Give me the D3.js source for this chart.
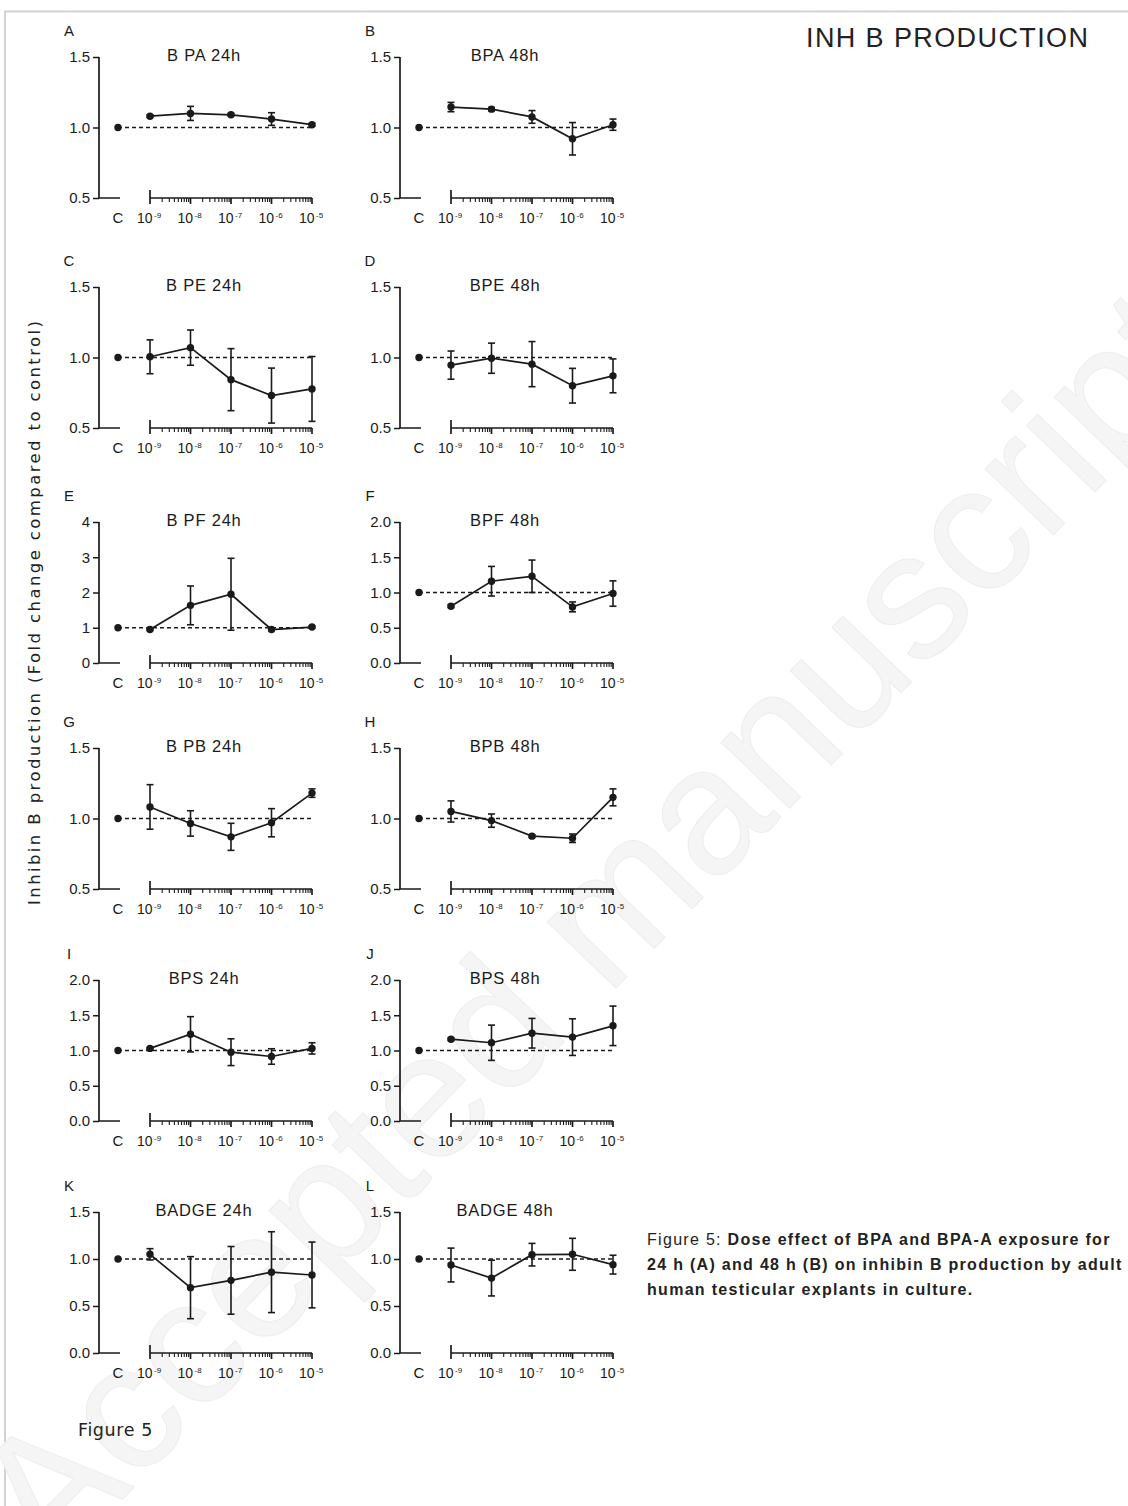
<!DOCTYPE html>
<html>
<head>
<meta charset="utf-8">
<script src="https://cdn.jsdelivr.net/npm/d3@7"></script>
<style>
  body { margin: 0; background: #fff; }
  svg { display: block; }
</style>
</head>
<body>
<div id="chart"></div>
<script>
// doses on the log axis, control is drawn apart at "C"
var doses = [1e-9, 1e-8, 1e-7, 1e-6, 1e-5];
var doseExp = ["-9", "-8", "-7", "-6", "-5"];

// mean fold change, one value per dose (control = 1)
var bpa24 = [1.08, 1.10, 1.09, 1.06, 1.02];
var bpa24Err = [0.01, 0.05, 0.01, 0.045, 0.01];
var bpa48 = [1.145, 1.13, 1.075, 0.92, 1.02];
var bpa48Err = [0.033, 0.012, 0.045, 0.115, 0.04];
var bpe24 = [1.005, 1.07, 0.843, 0.73, 0.777];
var bpe24Err = [0.12, 0.125, 0.22, 0.195, 0.23];
var bpe48 = [0.946, 0.995, 0.953, 0.80, 0.87];
var bpe48Err = [0.10, 0.107, 0.16, 0.123, 0.12];
var bpf24 = [0.95, 1.635, 1.95, 0.95, 1.02];
var bpf24Err = [0.03, 0.55, 1.02, 0.03, 0.03];
var bpf48 = [0.806, 1.16, 1.23, 0.796, 0.985];
var bpf48Err = [0.02, 0.21, 0.23, 0.07, 0.18];
var bpb24 = [1.082, 0.965, 0.87, 0.97, 1.18];
var bpb24Err = [0.158, 0.09, 0.096, 0.10, 0.03];
var bpb48 = [1.05, 0.985, 0.875, 0.86, 1.15];
var bpb48Err = [0.075, 0.047, 0.01, 0.03, 0.06];
var bps24 = [1.03, 1.23, 0.976, 0.915, 1.03];
var bps24Err = [0.01, 0.25, 0.19, 0.11, 0.08];
var bps48 = [1.16, 1.11, 1.245, 1.19, 1.35];
var bps48Err = [0.02, 0.25, 0.21, 0.26, 0.28];
var badge24 = [1.05, 0.695, 0.773, 0.86, 0.83];
var badge24Err = [0.06, 0.33, 0.36, 0.43, 0.35];
var badge48 = [0.936, 0.797, 1.046, 1.05, 0.94];
var badge48Err = [0.18, 0.19, 0.12, 0.17, 0.10];

// y tick sets
var ticks05to15 = [0.5, 1.0, 1.5];
var ticks0to4 = [0, 1, 2, 3, 4];
var ticks0to2 = [0, 0.5, 1.0, 1.5, 2.0];
var ticks0to15 = [0, 0.5, 1.0, 1.5];

var panelLetters = ["A", "B", "C", "D", "E", "F", "G", "H", "I", "J", "K", "L"];
var panelTitles = ["B PA 24h", "BPA 48h", "B PE 24h", "BPE 48h", "B PF 24h", "BPF 48h",
                   "B PB 24h", "BPB 48h", "BPS 24h", "BPS 48h", "BADGE 24h", "BADGE 48h"];
var panelValues = [bpa24, bpa48, bpe24, bpe48, bpf24, bpf48, bpb24, bpb48, bps24, bps48, badge24, badge48];
var panelErrors = [bpa24Err, bpa48Err, bpe24Err, bpe48Err, bpf24Err, bpf48Err,
                   bpb24Err, bpb48Err, bps24Err, bps48Err, badge24Err, badge48Err];
var panelTicks = [ticks05to15, ticks05to15, ticks05to15, ticks05to15, ticks0to4, ticks0to2,
                  ticks05to15, ticks05to15, ticks0to2, ticks0to2, ticks0to15, ticks0to15];

var W = 1128, H = 1506;
var colAxisX = [99, 400];
var rowTop = [57, 287, 522, 748, 980, 1212];
var plotH = 141;
var ink = "#1a1a1a";
var sans = "Liberation Sans, Arial, sans-serif";

var svg = d3.select("#chart").append("svg").attr("width", W).attr("height", H);

// page frame
svg.append("path").attr("d", "M5," + H + "V11.5H" + W)
  .attr("fill", "none").attr("stroke", "#d2d2d2").attr("stroke-width", 2);

// watermark, cut by the page edges as in the scan
svg.append("text")
  .attr("transform", "translate(590,925) rotate(-46)")
  .attr("text-anchor", "middle").attr("dominant-baseline", "central")
  .attr("font-family", sans).attr("font-size", 180)
  .attr("fill", "#f5f5f5").attr("stroke", "#ededed").attr("stroke-width", 1)
  .text("Accepted manuscript");

svg.append("text").attr("x", 806).attr("y", 47)
  .attr("font-family", sans).attr("font-size", 27)
  .attr("textLength", 282).attr("fill", "#222")
  .text("INH B PRODUCTION");

svg.append("text")
  .attr("transform", "translate(40,613) rotate(-90)")
  .attr("text-anchor", "middle")
  .attr("font-family", "DejaVu Sans, Verdana, sans-serif").attr("font-size", 16.5)
  .attr("textLength", 584).attr("fill", "#222")
  .text("Inhibin B production (Fold change compared to control)");

svg.append("text").attr("x", 78).attr("y", 1436)
  .attr("font-family", "DejaVu Sans, Verdana, sans-serif").attr("font-size", 17.5)
  .attr("letter-spacing", 0.6).attr("fill", "#222").text("Figure 5");

var caption = [
  ["Figure 5: ", "Dose effect of BPA and BPA-A exposure for"],
  ["", "24 h (A) and 48 h (B) on inhibin B production by adult"],
  ["", "human testicular explants in culture."]
];
caption.forEach(function(line, i) {
  var t = svg.append("text").attr("x", 647).attr("y", 1245 + i * 25)
    .attr("font-family", sans).attr("font-size", 16).attr("letter-spacing", 1.3)
    .attr("fill", "#222");
  t.append("tspan").text(line[0]);
  t.append("tspan").attr("font-weight", "bold").text(line[1]);
});

function run(idx) {
  var col = idx % 2, row = Math.floor(idx / 2);
  var ax = colAxisX[col];
  var top = rowTop[row];
  var bottom = top + plotH;
  var cX = ax + 19;
  var ticks = panelTicks[idx];
  var vals = panelValues[idx], errs = panelErrors[idx];

  var y = d3.scaleLinear().domain([ticks[0], ticks[ticks.length - 1]]).range([bottom, top]);
  var x = d3.scaleLog().domain([1e-9, 1e-5]).range([ax + 51, ax + 213]);

  var g = svg.append("g").attr("font-family", sans).attr("fill", ink);

  g.append("text").attr("x", ax - 30).attr("y", top - 21).attr("text-anchor", "middle")
    .attr("font-size", 15).text(panelLetters[idx]);
  g.append("text").attr("x", ax + 105).attr("y", top + 4).attr("text-anchor", "middle")
    .attr("font-size", 16.5).attr("letter-spacing", 0.8).text(panelTitles[idx]);

  // y axis
  var fmt = ticks[ticks.length - 1] == 4 ? d3.format("d") : d3.format(".1f");
  var yAxis = d3.axisLeft(y).tickValues(ticks).tickFormat(fmt).tickSize(6).tickPadding(3);
  var ya = g.append("g").attr("transform", "translate(" + ax + ",0)").call(yAxis);
  ya.select(".domain").remove();
  ya.selectAll("line").attr("stroke", ink).attr("stroke-width", 1.5);
  ya.selectAll("text").attr("font-size", 15).attr("fill", ink).attr("font-family", sans);
  g.append("path").attr("d", "M" + ax + "," + top + "V" + bottom + "H" + (ax + 21))
    .attr("fill", "none").attr("stroke", ink).attr("stroke-width", 1.7);

  // log x axis with decades and minor ticks
  var minor = [];
  doses.forEach(function(d, i) {
    if (i < doses.length - 1) for (var k = 2; k <= 9; k++) minor.push(d * k);
  });
  var xa = g.append("g").attr("transform", "translate(0," + bottom + ")");
  xa.append("path").attr("d", "M" + x(1e-9) + ",0H" + x(1e-5))
    .attr("stroke", ink).attr("stroke-width", 1.7);
  xa.selectAll("line.minor").data(minor).enter().append("line").attr("class", "minor")
    .attr("x1", function(d) { return x(d); }).attr("x2", function(d) { return x(d); })
    .attr("y1", 0).attr("y2", 4).attr("stroke", ink).attr("stroke-width", 1.1);
  xa.selectAll("line.major").data(doses).enter().append("line").attr("class", "major")
    .attr("x1", function(d) { return x(d); }).attr("x2", function(d) { return x(d); })
    .attr("y1", function(d, i) { return i == 0 ? -8 : 0; }).attr("y2", 6)
    .attr("stroke", ink).attr("stroke-width", 1.7);

  g.append("text").attr("x", cX).attr("y", bottom + 25).attr("text-anchor", "middle")
    .attr("font-size", 15).text("C");
  var lab = g.selectAll("text.dose").data(doses).enter().append("text").attr("class", "dose")
    .attr("x", function(d) { return x(d) - 1; }).attr("y", bottom + 25)
    .attr("text-anchor", "middle").attr("font-size", 14);
  lab.append("tspan").text("10");
  lab.append("tspan").attr("dy", -5).attr("font-size", 8).attr("dx", 1.5)
    .text(function(d, i) { return doseExp[i]; });

  // control reference line at 1
  g.append("line").attr("x1", cX).attr("x2", x(1e-5)).attr("y1", y(1)).attr("y2", y(1))
    .attr("stroke", ink).attr("stroke-width", 1.6).attr("stroke-dasharray", "4,3");

  // error bars
  var eb = g.selectAll("g.err").data(vals).enter().append("g").attr("class", "err")
    .attr("stroke", ink).attr("stroke-width", 1.6);
  eb.append("line")
    .attr("x1", function(d, i) { return x(doses[i]); }).attr("x2", function(d, i) { return x(doses[i]); })
    .attr("y1", function(d, i) { return y(d - errs[i]); }).attr("y2", function(d, i) { return y(d + errs[i]); });
  eb.append("line")
    .attr("x1", function(d, i) { return x(doses[i]) - 3.5; }).attr("x2", function(d, i) { return x(doses[i]) + 3.5; })
    .attr("y1", function(d, i) { return y(d + errs[i]); }).attr("y2", function(d, i) { return y(d + errs[i]); });
  eb.append("line")
    .attr("x1", function(d, i) { return x(doses[i]) - 3.5; }).attr("x2", function(d, i) { return x(doses[i]) + 3.5; })
    .attr("y1", function(d, i) { return y(d - errs[i]); }).attr("y2", function(d, i) { return y(d - errs[i]); });

  var line = d3.line().x(function(d, i) { return x(doses[i]); }).y(function(d) { return y(d); });
  g.append("path").datum(vals).attr("d", line).attr("fill", "none")
    .attr("stroke", ink).attr("stroke-width", 1.7);

  g.append("circle").attr("cx", cX).attr("cy", y(1)).attr("r", 3.7);
  g.selectAll("circle.pt").data(vals).enter().append("circle").attr("class", "pt")
    .attr("cx", function(d, i) { return x(doses[i]); })
    .attr("cy", function(d) { return y(d); }).attr("r", 3.7);
}

for (var p = 0; p < panelTitles.length; p++) run(p);
</script>
</body>
</html>
